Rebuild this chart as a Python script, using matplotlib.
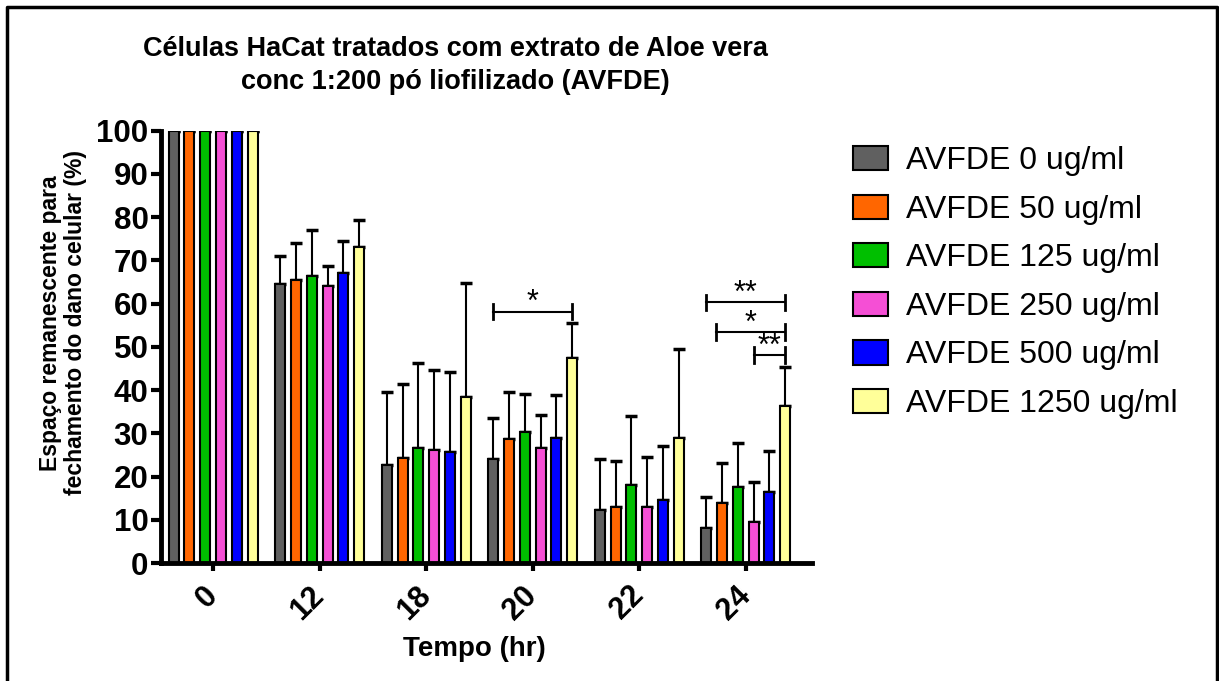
import matplotlib.pyplot as plt
import numpy as np
from matplotlib.lines import Line2D
from matplotlib.transforms import ScaledTranslation

plt.rcParams['font.family'] = ['Liberation Sans', 'DejaVu Sans']

# ---- data ----
times = ['0', '12', '18', '20', '22', '24']
series = ['AVFDE 0 ug/ml', 'AVFDE 50 ug/ml', 'AVFDE 125 ug/ml',
          'AVFDE 250 ug/ml', 'AVFDE 500 ug/ml', 'AVFDE 1250 ug/ml']
colors = ['#606060', '#ff6600', '#00bf00', '#f54fd5', '#0000ff', '#ffff99']

# mean remaining space (%) per concentration, one entry per time point
means = [
    [100, 64.6, 22.6, 24.1, 12.3, 8.2],
    [100, 65.6, 24.4, 28.8, 13.0, 14.0],
    [100, 66.5, 26.7, 30.3, 18.0, 17.7],
    [100, 64.0, 26.2, 26.6, 13.1, 9.6],
    [100, 67.1, 25.7, 29.0, 14.6, 16.4],
    [100, 73.1, 38.4, 47.4, 29.0, 36.4],
]
# upper error (SD)
errors = [
    [0, 6.5, 16.9, 9.5, 11.8, 7.2],
    [0, 8.4, 17.1, 10.9, 10.7, 9.1],
    [0, 10.5, 19.6, 8.8, 16.0, 10.1],
    [0, 4.8, 18.5, 7.7, 11.5, 9.2],
    [0, 7.4, 18.4, 9.8, 12.6, 9.5],
    [0, 6.2, 26.5, 8.2, 20.6, 9.0],
]
# significance brackets: (time index, first series, last series, height, label)
brackets = [
    (3, 0, 5, 58.2, '*'),
    (5, 0, 5, 60.3, '**'),
    (5, 0.6, 5, 53.4, '*'),
    (5, 3, 5, 48.1, '**'),
]

fig = plt.figure(figsize=(12.19, 6.81), dpi=100)
ax = fig.add_axes([0.132, 0.173, 0.534, 0.635])

x = np.arange(len(times))
pitch = 0.148
width = 0.094
offsets = (np.arange(len(series)) - 2.5) * pitch

for i in range(len(series)):
    ax.bar(x + offsets[i], means[i], width, color=colors[i], edgecolor='black',
           linewidth=1.5, label=series[i], zorder=2)
    ax.errorbar(x + offsets[i], means[i], yerr=[np.zeros(len(times)), errors[i]],
                fmt='none', ecolor='black', elinewidth=1.5, capsize=4,
                capthick=2.5, zorder=1)

for t, s0, s1, h, lab in brackets:
    x0 = t + (s0 - 2.5) * pitch
    x1 = t + (s1 - 2.5) * pitch
    ax.plot([x0, x1], [h, h], color='black', lw=1.5, clip_on=False)
    for xe in (x0, x1):
        ax.plot([xe, xe], [h - 1.8, h + 1.8], color='black', lw=2, clip_on=False)
    ax.text((x0 + x1) / 2, h - 1.5, lab, ha='center', va='bottom', fontsize=22)

ax.set_xlim(-0.49, 5.62)
ax.set_ylim(0, 100)
ax.set_yticks(np.arange(0, 101, 10))
ax.set_xticks(x)
ax.set_xticklabels(times, rotation=45, ha='right', va='center',
                   rotation_mode='anchor', fontsize=22, fontweight='bold')
shift = ScaledTranslation(8 / 100, 0, fig.dpi_scale_trans)
for lbl in ax.get_xticklabels():
    lbl.set_transform(lbl.get_transform() + shift)
for lbl in ax.get_yticklabels():
    lbl.set_fontsize(22.5)
    lbl.set_fontweight('bold')

for side in ('top', 'right'):
    ax.spines[side].set_visible(False)
for side in ('left', 'bottom'):
    ax.spines[side].set_linewidth(3.5)
ax.tick_params(axis='y', length=7, width=3, pad=2)
ax.tick_params(axis='x', length=6, width=3, pad=14)

ax.set_xlabel('Tempo (hr)', fontsize=20, fontweight='bold')
ax.xaxis.set_label_coords(0.482, -0.168)
ax.set_ylabel('Espaço remanescente para\nfechamento do dano celular (%)',
              fontsize=16.5, fontweight='bold', linespacing=1.1)
ax.yaxis.set_label_coords(-0.114, 0.556)

fig.text(455 / 1219, 1 - 65.5 / 681,
         'Células HaCat tratados com extrato de Aloe vera\n'
         'conc 1:200 pó liofilizado (AVFDE)',
         ha='center', va='center', fontsize=19.5, fontweight='bold',
         linespacing=1.38)

fig.legend(*ax.get_legend_handles_labels(), loc='upper left',
           bbox_to_anchor=(853 / 1219, 1 - 146 / 681), frameon=False,
           fontsize=23, handlelength=1.1, handleheight=0.8,
           labelspacing=0.57, handletextpad=0.55, borderpad=0, borderaxespad=0)

# outer frame (left, top, right)
frame_x = [7 / 1219, 7 / 1219, 1217 / 1219, 1217 / 1219]
frame_y = [0, 1 - 7 / 681, 1 - 7 / 681, 0]
fig.add_artist(Line2D(frame_x, frame_y, transform=fig.transFigure,
                      color='black', linewidth=2.5))

fig.savefig('out.png', dpi=100)
